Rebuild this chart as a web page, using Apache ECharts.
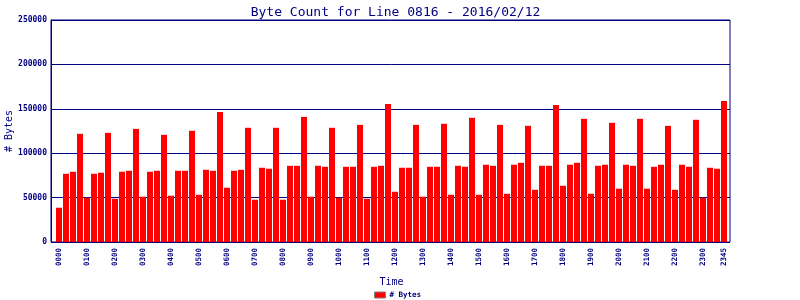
<!DOCTYPE html>
<html>
<head>
<meta charset="utf-8">
<script src="https://cdn.jsdelivr.net/npm/echarts@6/dist/echarts.min.js"></script>
<style>html,body{margin:0;padding:0;background:#fff}#c{width:800px;height:300px}</style>
</head>
<body>
<div id="c"></div>
<script>
const hours = ['00','01','02','03','04','05','06','07','08','09','10','11','12','13','14','15','16','17','18','19','20','21','22','23'];
const quarters = ['00','15','30','45'];
const categories = [];
hours.forEach(h => quarters.forEach(q => categories.push(h + q)));
const byteCounts = [
  38600, 76800, 79100, 121800, 49800, 76800, 78000, 122900,
  48700, 79100, 80200, 127400, 51000, 79100, 80200, 120700,
  52100, 80200, 80200, 125200, 53200, 81300, 80200, 146500,
  61100, 80200, 81300, 128600, 47600, 83600, 82500, 128600,
  47600, 85800, 85800, 140900, 51000, 85800, 84700, 128600,
  49800, 84700, 84700, 131900, 48700, 84700, 85800, 155500,
  56600, 83600, 83600, 131900, 51000, 84700, 84700, 133100,
  53200, 85800, 84700, 139800, 53200, 87000, 85800, 131900,
  54300, 87000, 89200, 130800, 58800, 85800, 85800, 154400,
  63300, 87000, 89200, 138700, 54300, 85800, 87000, 134200,
  60000, 87000, 85800, 138700, 60000, 84700, 87000, 130800,
  58800, 87000, 84700, 137600, 49800, 83600, 82500, 158900
];
const yTicks = { min: 0, max: 250000, interval: 50000 };
const seriesName = '# Bytes';
const titleText = 'Byte Count for Line 0816 - 2016/02/12';

const navy = '#000080';
const mono = 'DejaVu Sans Mono';
const chart = echarts.init(document.getElementById('c'), null, { renderer: 'canvas' });
chart.setOption({
  animation: false,
  backgroundColor: '#fff',
  title: {
    text: titleText, left: 390.5, top: 1, textAlign: 'center',
    textStyle: { color: navy, fontFamily: mono, fontSize: 13, fontWeight: 'normal' }
  },
  legend: {
    data: [seriesName], left: 374, top: 291, icon: 'rect',
    itemWidth: 11, itemHeight: 6, itemGap: 4,
    itemStyle: { borderColor: '#808080', borderWidth: 1 },
    textStyle: { color: navy, fontFamily: mono, fontSize: 7.5, fontWeight: 'bold', padding: [0,0,0,-1] },
    padding: 0
  },
  grid: [
    { left: 51, right: 70, top: 20, bottom: 58, show: true, borderColor: navy, borderWidth: 1, backgroundColor: 'transparent', containLabel: false, outerBoundsMode: 'none' },
    { left: 55.5, width: 672, top: 20, bottom: 58, containLabel: false, outerBoundsMode: 'none' }
  ],
  xAxis: [
    { gridIndex: 0, type: 'value', min: 0, max: 1, show: false },
    {
      gridIndex: 1, type: 'category', data: categories, boundaryGap: true,
      name: 'Time', nameLocation: 'middle', nameGap: 35, nameMoveOverlap: false,
      nameTextStyle: { color: navy, fontFamily: mono, fontSize: 10 },
      axisLine: { show: false }, axisTick: { show: false },
      axisLabel: {
        rotate: 90, margin: 6, color: navy, fontFamily: mono, fontSize: 7.5, fontWeight: 'bold',
        hideOverlap: false,
        interval: (i) => i % 4 === 0 || i === categories.length - 1
      }
    }
  ],
  yAxis: [
    {
      gridIndex: 0, type: 'value', min: yTicks.min, max: yTicks.max, interval: yTicks.interval,
      name: '# Bytes', nameLocation: 'middle', nameGap: 37, nameMoveOverlap: false,
      nameTextStyle: { color: navy, fontFamily: mono, fontSize: 10 },
      axisLine: { show: true, lineStyle: { color: navy, width: 1 } },
      axisTick: { show: false },
      axisLabel: { color: navy, fontFamily: mono, fontSize: 8, fontWeight: 'bold', margin: 4, hideOverlap: false, formatter: (v) => String(v) },
      splitLine: { show: true, lineStyle: { color: navy, width: 1 } }
    },
    { gridIndex: 1, type: 'value', min: yTicks.min, max: yTicks.max, show: false, splitLine: { show: false } }
  ],
  series: [{
    name: seriesName, type: 'bar', xAxisIndex: 1, yAxisIndex: 1,
    data: byteCounts, barWidth: 6, itemStyle: { color: '#ff0000' }, z: 1
  }]
});
</script>
</body>
</html>
